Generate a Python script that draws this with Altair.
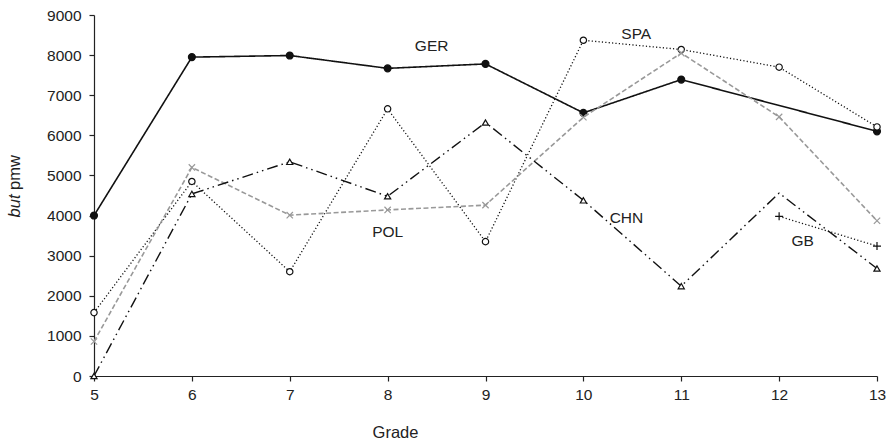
import altair as alt
import pandas as pd

grades = [5, 6, 7, 8, 9, 10, 11, 12, 13]
ger = [4000, 7950, 7990, 7670, 7780, 6560, 7390, None, 6100]
spa = [1580, 4850, 2600, 6660, 3350, 8370, 8140, 7700, 6210]
pol = [860, 5200, 4010, 4140, 4260, 6450, 8050, 6460, 3870]
chn = [0, 4540, 5340, 4480, 6320, 4380, 2240, 4560, 2680]
chn_marker = [True, True, True, True, True, True, True, False, True]
gb_grades = [12, 13]
gb = [3980, 3240]

label_text = ["GER", "SPA", "POL", "CHN", "GB"]
label_x = [8.45, 10.54, 8.0, 10.44, 12.24]
label_y = [8230, 8530, 3590, 3940, 3370]

def frame(xs, ys, marker=None):
    rows = []
    for i, (a, b) in enumerate(zip(xs, ys)):
        if b is None:
            continue
        rows.append({"grade": a, "value": b, "marker": True if marker is None else marker[i]})
    return pd.DataFrame(rows)

X = alt.X("grade:Q", scale=alt.Scale(domain=[5, 13], nice=False),
          axis=alt.Axis(values=grades, format="d", title="Grade", grid=False,
                        tickSize=5, labelPadding=6, titleX=301, titleY=48,
                        labelFlush=False, labelOverlap=False,
                        titleAnchor="start", titleAlign="center"))
Y = alt.Y("value:Q", scale=alt.Scale(domain=[0, 9000], nice=False),
          axis=alt.Axis(values=list(range(0, 9001, 1000)), format="d", title=None, grid=False,
                        tickSize=5, labelPadding=8, labelFlush=False, labelOverlap=False))

def series2(df, stroke, dash, width, shape, size, fill, mstroke):
    base = alt.Chart(df)
    line = base.mark_line(color=stroke, strokeDash=dash, strokeWidth=width).encode(x=X, y=Y)
    kw = dict(shape=shape, size=size, stroke=mstroke, strokeWidth=1.2, opacity=1)
    if fill is not None:
        kw["fill"] = fill
        kw["filled"] = True
    else:
        kw["filled"] = False
    pts = base.transform_filter("datum.marker").mark_point(**kw).encode(x=X, y=Y)
    return line + pts

cross_x = "M-1,-1L1,1M-1,1L1,-1"
plus = "M-1,0L1,0M0,-1L0,1"

l_ger = series2(frame(grades, ger), "#111111", [1, 0], 1.6, "circle", 48, "#111111", "#111111")
l_spa = series2(frame(grades, spa), "#111111", [1.2, 2.2], 1.3, "circle", 40, "white", "#111111")
l_pol = series2(frame(grades, pol), "#999999", [5, 2.5], 1.6, cross_x, 40, None, "#999999")
l_chn = series2(frame(grades, chn, chn_marker), "#111111", [11, 4, 1.5, 4, 1.5, 4], 1.4,
                "triangle-up", 38, "white", "#111111")
l_gb = series2(frame(gb_grades, gb), "#111111", [1.2, 2.2], 1.3, plus, 64, None, "#111111")

labels = alt.Chart(pd.DataFrame({"t": label_text, "grade": label_x, "value": label_y})).mark_text(
    fontSize=15.5, font="Liberation Sans", color="#222222", align="center", baseline="middle"
).encode(x=X, y=Y, text="t:N")

yt_but = alt.Chart(pd.DataFrame({"t": ["but"]})).mark_text(
    fontSize=16.5, font="Liberation Sans", fontStyle="italic", angle=270, color="#222222",
    align="center", baseline="middle").encode(text="t:N", x=alt.value(-79), y=alt.value(191))
yt_pmw = alt.Chart(pd.DataFrame({"t": ["pmw"]})).mark_text(
    fontSize=16.5, font="Liberation Sans", angle=270, color="#222222",
    align="center", baseline="middle").encode(text="t:N", x=alt.value(-79), y=alt.value(157.5))

chart = alt.layer(l_ger, l_spa, l_pol, l_chn, l_gb, labels, yt_but, yt_pmw).properties(
    width=783, height=361,
    autosize=alt.AutoSizeParams(type="none"),
    padding={"left": 94, "top": 15, "right": 13, "bottom": 69},
).configure_view(stroke=None).configure_axis(
    domainColor="#222222", tickColor="#222222", labelColor="#222222", titleColor="#222222",
    labelFont="Liberation Sans", titleFont="Liberation Sans", labelFontSize=15.5,
    titleFontSize=16.5, titleFontWeight="normal", domainWidth=1.2, tickWidth=1.2
)

chart.save("out.html", embed_options={"renderer": "svg", "actions": False})
